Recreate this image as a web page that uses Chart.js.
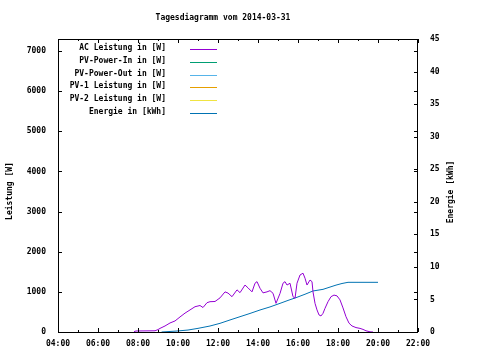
<!DOCTYPE html>
<html><head><meta charset="utf-8">
<script src="https://cdn.jsdelivr.net/npm/chart.js@4/dist/chart.umd.min.js"></script>
<style>html,body{margin:0;padding:0;background:#fff}canvas{display:block}</style>
</head><body>
<canvas id="c" width="480" height="360"></canvas>
<script>
const TITLE = 'Tagesdiagramm vom 2014-03-31';
const Y_TITLE = 'Leistung [W]';
const Y2_TITLE = 'Energie [kWh]';
const SERIES_LABELS = ['AC Leistung in [W]', 'PV-Power-In in [W]', 'PV-Power-Out in [W]', 'PV-1 Leistung in [W]', 'PV-2 Leistung in [W]', 'Energie in [kWh]'];
const SERIES_COLORS = ['#9400D3', '#009E73', '#56B4E9', '#E69F00', '#F0E442', '#0072B2'];

// tick values and labels
const X_TICK_HOURS = [4, 6, 8, 10, 12, 14, 16, 18, 20, 22];
const X_TICK_LABELS = ['04:00', '06:00', '08:00', '10:00', '12:00', '14:00', '16:00', '18:00', '20:00', '22:00'];
const Y_TICKS = [0, 1000, 2000, 3000, 4000, 5000, 6000, 7000];
const Y2_TICKS = [0, 5, 10, 15, 20, 25, 30, 35, 40, 45];

// AC power (W)
const AC_TIME = [7.8, 7.9, 8.85, 9.0, 9.1, 9.35, 9.6, 9.85, 10.1, 10.35, 10.6, 10.85, 11.1, 11.25, 11.45, 11.6, 11.85, 12.1, 12.35, 12.5, 12.7, 12.95, 13.1, 13.35, 13.5, 13.7, 13.85, 13.95, 14.1, 14.25, 14.45, 14.6, 14.75, 14.9, 15.1, 15.25, 15.35, 15.45, 15.6, 15.75, 15.85, 15.95, 16.1, 16.25, 16.35, 16.45, 16.6, 16.7, 16.75, 16.85, 16.95, 17.05, 17.15, 17.25, 17.35, 17.5, 17.65, 17.8, 17.95, 18.1, 18.25, 18.4, 18.55, 18.7, 18.9, 19.1, 19.25, 19.4, 19.6, 19.75];
const AC_WATT = [10, 25, 30, 60, 90, 150, 225, 275, 375, 470, 550, 630, 660, 610, 730, 755, 760, 850, 1000, 970, 880, 1050, 980, 1170, 1100, 1000, 1215, 1255, 1090, 975, 1000, 1030, 965, 715, 960, 1215, 1255, 1170, 1215, 880, 840, 1215, 1420, 1465, 1340, 1170, 1295, 1255, 1000, 715, 550, 425, 400, 465, 590, 755, 880, 920, 900, 800, 600, 380, 220, 150, 110, 90, 65, 30, 5, 0];

// Energy (kWh)
const E_TIME = [9.18, 9.95, 10.5, 11.0, 11.6, 12.1, 12.6, 13.1, 13.6, 14.1, 14.6, 15.1, 15.5, 15.95, 16.35, 16.75, 17.25, 17.6, 17.9, 18.2, 18.5, 20.0];
const E_KWH = [0, 0.15, 0.3, 0.56, 0.92, 1.33, 1.85, 2.35, 2.85, 3.38, 3.85, 4.4, 4.85, 5.33, 5.8, 6.3, 6.55, 6.9, 7.2, 7.45, 7.63, 7.63];

const PV_IN = [], PV_OUT = [], PV1 = [], PV2 = [];

const FONT = "'DejaVu Sans Mono', monospace";
Chart.defaults.font.family = FONT;
Chart.defaults.font.size = 8;
Chart.defaults.font.weight = 'bold';
Chart.defaults.color = '#000';

const pts = (xs, ys) => xs.map((x, i) => ({x, y: ys[i]}));
const seriesData = [pts(AC_TIME, AC_WATT), PV_IN, PV_OUT, PV1, PV2, pts(E_TIME, E_KWH)];

const frame = {
  id: 'frame',
  afterDatasetsDraw(chart) {
    const ctx = chart.ctx, a = chart.chartArea;
    const x = chart.scales.x, y = chart.scales.y, y2 = chart.scales.y2;
    ctx.save();
    ctx.strokeStyle = '#000';
    ctx.lineWidth = 1;
    ctx.strokeRect(Math.round(a.left) + 0.5, Math.round(a.top) + 0.5, Math.round(a.right - a.left) - 1, Math.round(a.bottom - a.top));
    ctx.beginPath();
    for (let h = x.min; h <= x.max; h++) {
      const px = Math.round(x.getPixelForValue(h)) + 0.5;
      const len = h % 2 === 0 ? 4 : 2;
      ctx.moveTo(px, a.bottom); ctx.lineTo(px, a.bottom - len);
      ctx.moveTo(px, a.top); ctx.lineTo(px, a.top + len);
    }
    Y_TICKS.forEach(v => {
      const py = Math.round(y.getPixelForValue(v)) + 0.5;
      ctx.moveTo(a.left, py); ctx.lineTo(a.left + 4, py);
      ctx.moveTo(a.right, py); ctx.lineTo(a.right - 4, py);
    });
    Y2_TICKS.forEach(v => {
      const py = Math.round(y2.getPixelForValue(v)) + 0.5;
      ctx.moveTo(a.right, py); ctx.lineTo(a.right - 4, py);
    });
    ctx.stroke();
    ctx.restore();
  },
  afterDraw(chart) {
    const ctx = chart.ctx, a = chart.chartArea;
    ctx.save();
    ctx.fillStyle = '#000';
    ctx.font = 'bold 8px ' + FONT;
    ctx.textAlign = 'center';
    ctx.textBaseline = 'middle';
    ctx.fillText(TITLE, 223, 18);
    ctx.save();
    ctx.translate(10, 191); ctx.rotate(-Math.PI / 2); ctx.fillText(Y_TITLE, 0, 0);
    ctx.restore();
    ctx.save();
    ctx.translate(451, 192); ctx.rotate(-Math.PI / 2); ctx.fillText(Y2_TITLE, 0, 0);
    ctx.restore();
    // key
    ctx.textAlign = 'right';
    chart.data.datasets.forEach((ds, i) => {
      const yy = Math.round(a.top + 10 + i * 12.8);
      ctx.fillStyle = '#000';
      ctx.fillText(ds.label, a.left + 108, yy - 1);
      ctx.strokeStyle = SERIES_COLORS[i];
      ctx.lineWidth = 1;
      ctx.beginPath();
      ctx.moveTo(a.left + 132, yy + 0.5);
      ctx.lineTo(a.left + 159, yy + 0.5);
      ctx.stroke();
    });
    ctx.restore();
  }
};

new Chart(document.getElementById('c'), {
  type: 'line',
  data: {
    datasets: SERIES_LABELS.map((label, i) => ({
      label,
      data: seriesData[i],
      borderColor: SERIES_COLORS[i],
      backgroundColor: SERIES_COLORS[i],
      borderWidth: 1,
      pointRadius: 0,
      tension: 0,
      fill: false,
      yAxisID: i === 5 ? 'y2' : 'y'
    }))
  },
  options: {
    responsive: false,
    animation: false,
    layout: {padding: {top: 39, left: 0, right: 0, bottom: 0}},
    plugins: {legend: {display: false}, title: {display: false}, tooltip: {enabled: false}},
    scales: {
      x: {
        type: 'linear', min: 4, max: 22,
        grid: {display: false, drawTicks: false}, border: {display: false},
        ticks: {padding: 7, maxRotation: 0, autoSkip: false,
          callback: v => { const k = X_TICK_HOURS.indexOf(v); return k >= 0 ? X_TICK_LABELS[k] : null; }},
        afterBuildTicks: s => { s.ticks = X_TICK_HOURS.map(v => ({value: v})); },
        afterFit: s => { s.height = 28; }
      },
      y: {
        position: 'left', min: 0, max: 7300,
        grid: {display: false, drawTicks: false}, border: {display: false},
        ticks: {padding: 12, autoSkip: false, callback: v => String(v)},
        afterBuildTicks: s => { s.ticks = Y_TICKS.map(v => ({value: v})); },
        afterFit: s => { s.width = 58; }
      },
      y2: {
        position: 'right', min: 0, max: 45,
        grid: {display: false, drawTicks: false}, border: {display: false},
        ticks: {padding: 12, autoSkip: false, callback: v => String(v)},
        afterBuildTicks: s => { s.ticks = Y2_TICKS.map(v => ({value: v})); },
        afterFit: s => { s.width = 62; }
      }
    }
  },
  plugins: [frame]
});
</script>
</body></html>
